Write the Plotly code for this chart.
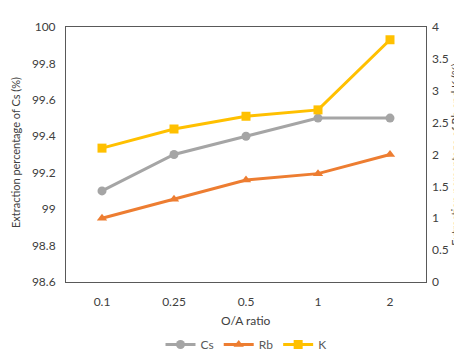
import plotly.graph_objects as go

categories = ["0.1", "0.25", "0.5", "1", "2"]
cs_values = [99.1, 99.3, 99.4, 99.5, 99.5]
rb_values = [1.0, 1.3, 1.6, 1.7, 2.0]
k_values = [2.1, 2.4, 2.6, 2.7, 3.8]

left_ticks = [98.6, 98.8, 99, 99.2, 99.4, 99.6, 99.8, 100]
left_labels = ["98.6", "98.8", "99", "99.2", "99.4", "99.6", "99.8", "100"]
right_ticks = [0, 0.5, 1, 1.5, 2, 2.5, 3, 3.5, 4]
right_labels = ["0", "0.5", "1", "1.5", "2", "2.5", "3", "3.5", "4"]

font_family = "Lato, Open Sans, sans-serif"
tick_color = "#404040"

fig = go.Figure()
fig.add_trace(go.Scatter(x=categories, y=cs_values, name="Cs", mode="lines+markers",
                         line=dict(color="#A5A5A5", width=3),
                         marker=dict(symbol="circle", size=9, color="#A5A5A5"),
                         yaxis="y"))
fig.add_trace(go.Scatter(x=categories, y=rb_values, name="Rb", mode="lines+markers",
                         line=dict(color="#ED7D31", width=3),
                         marker=dict(symbol="triangle-up", size=9, color="#ED7D31"),
                         yaxis="y2"))
fig.add_trace(go.Scatter(x=categories, y=k_values, name="K", mode="lines+markers",
                         line=dict(color="#FFC000", width=3),
                         marker=dict(symbol="square", size=9, color="#FFC000"),
                         yaxis="y2"))

W0, W1, H0, H1 = 58, 418, 19, 274
pw, ph = W1 - W0, H1 - H0

fig.update_layout(
    width=462, height=352,
    margin=dict(l=W0, r=462 - W1, t=H0, b=352 - H1, autoexpand=False),
    paper_bgcolor="white", plot_bgcolor="white",
    font=dict(family=font_family, size=12, color=tick_color),
    showlegend=True,
    legend=dict(orientation="h", x=0.5, xanchor="center",
                y=(H1 - 351) / ph, yanchor="bottom",
                font=dict(size=12, color="#595959"), itemwidth=30,
                tracegroupgap=0),
    xaxis=dict(type="category", range=[-0.5, 4.5], showgrid=False,
               showline=True, linecolor="#595959", linewidth=1, mirror=True,
               ticks="", ticklabelstandoff=9, automargin=False),
    yaxis=dict(range=[98.6, 100], tickvals=left_ticks, ticktext=left_labels,
               showgrid=False, showline=True, linecolor="#595959", linewidth=1,
               mirror=True, ticks="", zeroline=False, ticklabelstandoff=7,
               automargin=False),
    yaxis2=dict(range=[0, 4], tickvals=right_ticks, ticktext=right_labels,
                overlaying="y", side="right", showgrid=False, zeroline=False,
                showline=False, ticks="", ticklabelstandoff=5, automargin=False,
                title=dict(text="Extraction percentage of Rb and K (%)",
                           font=dict(size=11, color=tick_color), standoff=0)),
    annotations=[
        dict(text="O/A ratio", xref="paper", yref="paper", x=0.5, y=(H1 - 312) / ph,
             xanchor="center", yanchor="middle", showarrow=False,
             font=dict(size=12, color=tick_color)),
        dict(text="Extraction percentage of Cs (%)", xref="paper", yref="paper",
             x=0, xshift=7 - W0, y=(H1 - 145) / ph, xanchor="center", yanchor="middle",
             textangle=-90, showarrow=False, font=dict(size=11, color=tick_color)),
    ],
)

fig.write_html("out.html", config={"displayModeBar": False})
